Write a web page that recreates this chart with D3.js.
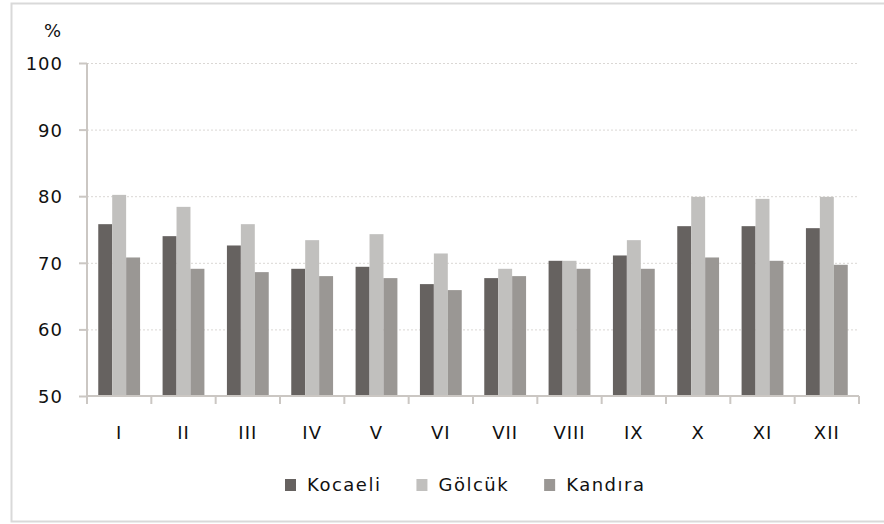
<!DOCTYPE html>
<html>
  <head>
    <meta charset="utf-8">
    <style>
      body { margin: 0; background: #fff; }
      text {
        font-family: 'DejaVu Sans', Verdana, sans-serif;
        font-size: 18px;
        fill: #111;
        letter-spacing: 1px;
      }
      .legend text { letter-spacing: 1.5px; }
    </style>
  </head>
  <body>
    <script src="https://d3js.org/d3.v7.min.js"></script>
    <script>
      var width = 884;
      var height = 524;

      var months = ["I", "II", "III", "IV", "V", "VI", "VII", "VIII", "IX", "X", "XI", "XII"];
      var seriesNames = ["Kocaeli", "Gölcük", "Kandıra"];
      var kocaeli = [75.8, 74.0, 72.6, 69.1, 69.4, 66.8, 67.7, 70.3, 71.1, 75.5, 75.5, 75.2];
      var golcuk = [80.2, 78.4, 75.8, 73.4, 74.3, 71.4, 69.1, 70.3, 73.4, 79.9, 79.6, 79.9];
      var kandira = [70.8, 69.1, 68.6, 68.0, 67.7, 65.9, 68.0, 69.1, 69.1, 70.8, 70.3, 69.7];
      var yTicks = [50, 60, 70, 80, 90, 100];
      var colors = ["#666260", "#c1c0be", "#9a9794"];

      var series = [kocaeli, golcuk, kandira];

      var svg = d3.select("body")
        .append("svg")
        .attr("width", width)
        .attr("height", height);

      // outer frame (right edge cropped in the original)
      svg.append("path")
        .attr("d", "M884,3.5 H11.5 V521.5 H884")
        .attr("fill", "none")
        .attr("stroke", "#d9d9d9")
        .attr("stroke-width", 2);

      var plotLeft = 87, plotRight = 859, plotTop = 63, plotBottom = 396;

      var y = d3.scaleLinear().domain([50, 100]).range([plotBottom, plotTop]);
      var x0 = d3.scaleBand().domain(months).range([plotLeft, plotRight])
        .paddingInner(0.35).paddingOuter(0.175);
      var x1 = d3.scaleBand().domain(d3.range(3)).range([0, x0.bandwidth()]);

      // dotted gridlines
      svg.append("g")
        .selectAll("line")
        .data(yTicks.filter(function(d) { return d > 50; }))
        .enter().append("line")
        .attr("x1", plotLeft)
        .attr("x2", plotRight)
        .attr("y1", function(d) { return y(d) + 0.5; })
        .attr("y2", function(d) { return y(d) + 0.5; })
        .attr("stroke", "#dad7d4")
        .attr("stroke-dasharray", "2,2");

      // bars
      var groups = svg.append("g")
        .selectAll("g")
        .data(months)
        .enter().append("g")
        .attr("transform", function(d) { return "translate(" + x0(d) + ",0)"; });

      groups.selectAll("rect")
        .data(function(d, i) {
          return series.map(function(s, k) { return { k: k, v: s[i] }; });
        })
        .enter().append("rect")
        .attr("x", function(d) { return x1(d.k); })
        .attr("width", x1.bandwidth())
        .attr("y", function(d) { return y(d.v); })
        .attr("height", function(d) { return plotBottom - y(d.v); })
        .attr("fill", function(d) { return colors[d.k]; });

      // y axis
      var yAxis = svg.append("g")
        .attr("transform", "translate(" + plotLeft + ",0)")
        .call(d3.axisLeft(y).tickValues(yTicks).tickSize(8).tickPadding(16));
      yAxis.select(".domain").attr("stroke", "#cbc7c3").attr("stroke-width", 2)
        .attr("d", "M0," + plotTop + "V" + plotBottom);
      yAxis.selectAll(".tick line").attr("stroke", "#cbc7c3").attr("stroke-width", 2);
      yAxis.selectAll("text").attr("font-family", null).attr("font-size", null)
        .attr("fill", "#111").attr("dy", "0.36em");

      // x axis: ticks between categories
      var xa = svg.append("g");
      xa.append("line")
        .attr("x1", plotLeft).attr("x2", plotRight)
        .attr("y1", plotBottom).attr("y2", plotBottom)
        .attr("stroke", "#cbc7c3").attr("stroke-width", 2);
      var step = x0.step();
      xa.selectAll("line.tk")
        .data(d3.range(months.length + 1))
        .enter().append("line")
        .attr("class", "tk")
        .attr("x1", function(i) { return plotLeft + i * step; })
        .attr("x2", function(i) { return plotLeft + i * step; })
        .attr("y1", plotBottom).attr("y2", plotBottom + 8)
        .attr("stroke", "#cbc7c3").attr("stroke-width", 2);
      xa.selectAll("text")
        .data(months)
        .enter().append("text")
        .attr("x", function(d) { return x0(d) + x0.bandwidth() / 2; })
        .attr("y", 439)
        .attr("text-anchor", "middle")
        .text(function(d) { return d; });

      // unit label
      svg.append("text")
        .attr("x", 62).attr("y", 37)
        .attr("text-anchor", "end")
        .text("%");

      // legend
      var lx = 285;
      var legend = svg.append("g").attr("class", "legend");
      seriesNames.forEach(function(name, k) {
        legend.append("rect")
          .attr("x", lx).attr("y", 479)
          .attr("width", 11).attr("height", 12)
          .attr("fill", colors[k]);
        var t = legend.append("text")
          .attr("x", lx + 22).attr("y", 491)
          .text(name);
        lx = lx + 22 + t.node().getComputedTextLength() + 35;
      });
    </script>
  </body>
</html>
